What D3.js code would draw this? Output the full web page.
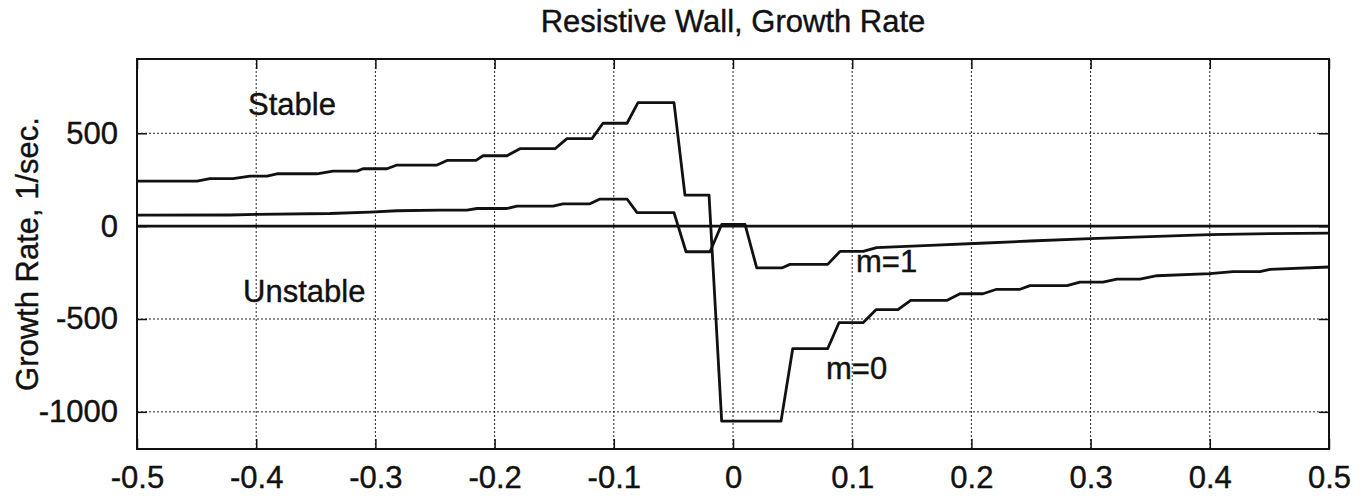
<!DOCTYPE html>
<html>
<head>
<meta charset="utf-8">
<script src="https://d3js.org/d3.v7.min.js"></script>
<style>
body { margin: 0; background: #fff; }
text { font-family: "Liberation Sans", Arial, sans-serif; fill: #111; stroke: #111; stroke-width: 0.4px; }
</style>
</head>
<body>
<div id="chart"></div>
<script>
const xTicks = [-0.5, -0.4, -0.3, -0.2, -0.1, 0, 0.1, 0.2, 0.3, 0.4, 0.5];
const yTicks = [-1000, -500, 0, 500];

// m=0 curve, [x, growth rate]
const m0 = [
  [-0.5, 242], [-0.4497, 242], [-0.4388, 256], [-0.4195, 256], [-0.4052, 269], [-0.3909, 269],
  [-0.3826, 282], [-0.349, 282], [-0.3356, 296], [-0.3154, 296], [-0.3104, 309], [-0.2903, 309],
  [-0.2819, 329], [-0.2483, 329], [-0.2399, 354], [-0.2156, 354], [-0.2097, 379], [-0.1896, 379],
  [-0.1787, 417], [-0.1493, 417], [-0.1393, 471], [-0.1183, 471], [-0.1091, 554], [-0.0889, 554],
  [-0.0797, 665], [-0.0495, 665], [-0.0403, 167], [-0.0201, 167], [-0.0095, -1050], [0.0403, -1050],
  [0.0501, -660], [0.0794, -660], [0.0889, -520], [0.1091, -520], [0.12, -450], [0.1384, -450],
  [0.1491, -400], [0.1793, -400], [0.1904, -364], [0.2097, -364], [0.2212, -340], [0.2408, -340],
  [0.2492, -320], [0.2802, -320], [0.2911, -301], [0.3104, -301], [0.3221, -285], [0.3414, -285],
  [0.3557, -267], [0.4002, -256], [0.4195, -245], [0.4421, -245], [0.4505, -233], [0.5, -220]
];

// m=1 curve
const m1 = [
  [-0.5, 59], [-0.422, 60], [-0.3993, 63], [-0.3381, 68], [-0.3045, 76], [-0.2819, 83],
  [-0.2458, 86], [-0.2232, 86], [-0.2148, 95], [-0.1896, 95], [-0.1812, 108], [-0.151, 108],
  [-0.1426, 120], [-0.12, 120], [-0.1116, 146], [-0.0889, 146], [-0.0805, 73], [-0.0495, 73],
  [-0.0394, -138], [-0.0193, -138], [-0.0095, 9], [0.0101, 9], [0.0199, -225], [0.0409, -225],
  [0.0478, -206], [0.0794, -206], [0.0898, -136], [0.1091, -136], [0.1205, -116], [0.1653, -104],
  [0.2072, -92], [0.2492, -80], [0.2995, -67], [0.3498, -56], [0.4002, -46], [0.4505, -40], [0.5, -38]
];

const zeroLine = [[-0.5, 0], [0.5, 0]];

const width = 1370;
const height = 499;
const margin = {top: 59, right: 41, bottom: 50, left: 137};
const w = width - margin.left - margin.right;
const h = height - margin.top - margin.bottom;

const svg = d3.select('#chart').append('svg')
  .attr('width', width)
  .attr('height', height);

const g = svg.append('g')
  .attr('transform', `translate(${margin.left},${margin.top})`);

const x = d3.scaleLinear().domain([-0.5, 0.5]).range([0, w]);
const y = d3.scaleLinear().domain([-1200, 900]).range([h, 0]);

// dotted grid
g.append('g')
  .selectAll('line')
  .data(xTicks.slice(1, -1))
  .enter()
  .append('line')
  .attr('x1', d => x(d)).attr('x2', d => x(d))
  .attr('y1', 0).attr('y2', h)
  .attr('stroke', '#222')
  .attr('stroke-width', 1)
  .attr('stroke-dasharray', '2,2');

g.append('g')
  .selectAll('line')
  .data(yTicks)
  .enter()
  .append('line')
  .attr('x1', 0).attr('x2', w)
  .attr('y1', d => y(d)).attr('y2', d => y(d))
  .attr('stroke', '#222')
  .attr('stroke-width', 1)
  .attr('stroke-dasharray', '2,2');

// axes with inward ticks on all four sides
const fmt = d => String(d);

g.append('g')
  .attr('transform', `translate(0,${h})`)
  .call(d3.axisBottom(x).tickValues(xTicks).tickFormat(fmt).tickSizeInner(-10).tickSizeOuter(0).tickPadding(17));

g.append('g')
  .call(d3.axisLeft(y).tickValues(yTicks).tickFormat(fmt).tickSizeInner(-10).tickSizeOuter(0).tickPadding(19));

g.append('g')
  .call(d3.axisTop(x).tickValues(xTicks).tickFormat('').tickSizeInner(-10).tickSizeOuter(0));

g.append('g')
  .attr('transform', `translate(${w},0)`)
  .call(d3.axisRight(y).tickValues(yTicks).tickFormat('').tickSizeInner(-10).tickSizeOuter(0));

g.selectAll('.domain').remove();
g.selectAll('.tick line').attr('stroke', '#111').attr('stroke-width', 1.5);
g.selectAll('.tick text')
  .style('font-family', '"Liberation Sans", Arial, sans-serif')
  .style('font-size', '31px')
  .attr('fill', '#111');

// frame
g.append('rect')
  .attr('width', w)
  .attr('height', h)
  .attr('fill', 'none')
  .attr('stroke', '#111')
  .attr('stroke-width', 2);

// curves
const line = d3.line()
  .x(d => x(d[0]))
  .y(d => y(d[1]));

[zeroLine, m0, m1].forEach(series => {
  g.append('path')
    .datum(series)
    .attr('d', line)
    .attr('fill', 'none')
    .attr('stroke', '#111')
    .attr('stroke-width', 2.8)
    .attr('stroke-linejoin', 'round');
});

// annotations
const notes = [
  {text: 'Stable', px: -0.4069, py: 598},
  {text: 'Unstable', px: -0.411, py: -409},
  {text: 'm=1', px: 0.1032, py: -247},
  {text: 'm=0', px: 0.078, py: -823}
];

g.selectAll('.note')
  .data(notes)
  .enter()
  .append('text')
  .attr('class', 'note')
  .attr('x', d => x(d.px))
  .attr('y', d => y(d.py))
  .style('font-size', '31px')
  .text(d => d.text);

// title and y label
svg.append('text')
  .attr('x', margin.left + x(0))
  .attr('y', 32)
  .attr('text-anchor', 'middle')
  .style('font-size', '31px')
  .text('Resistive Wall, Growth Rate');

svg.append('text')
  .attr('transform', `translate(38,${margin.top + y(-150)}) rotate(-90)`)
  .attr('text-anchor', 'middle')
  .style('font-size', '31px')
  .text('Growth Rate, 1/sec.');
</script>
</body>
</html>
